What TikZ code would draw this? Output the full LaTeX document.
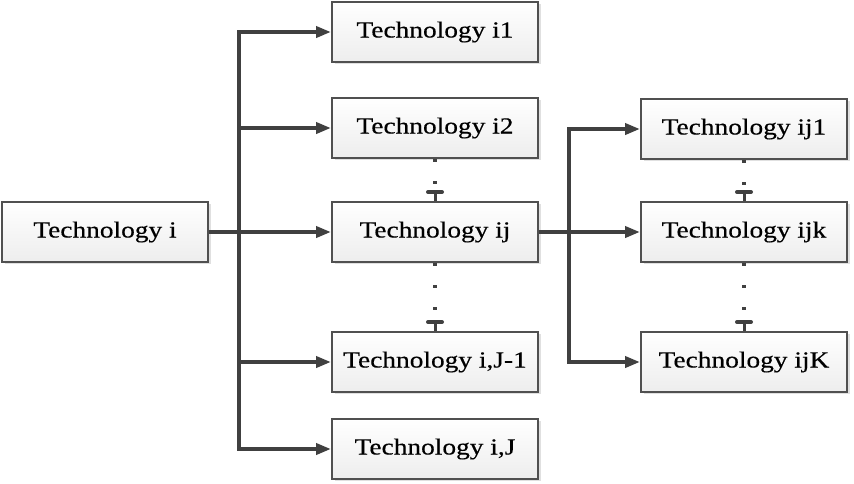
\documentclass[tikz,border=0pt]{standalone}
\usepackage{fontspec}
\setmainfont{Liberation Serif}[FakeStretch=1.19,FakeBold=0.35]
\usetikzlibrary{arrows.meta,shadows}
\definecolor{lnc}{HTML}{404040}
\definecolor{bdc}{HTML}{505050}
\tikzset{
  techbox/.style={draw=bdc, line width=2pt, top color=white, bottom color=black!7,
    minimum width=206pt, minimum height=60pt, inner sep=0pt,
    font=\fontsize{23}{27}\selectfont,
    drop shadow={shadow xshift=3pt, shadow yshift=-2pt, fill=black!12, opacity=1}},
  conn/.style={draw=lnc, line width=4pt, line join=miter,
    -{Triangle[length=15pt,width=11pt]}},
  dotsline/.style={draw=lnc, line width=3.2pt, dash pattern=on 3.2pt off 18.8pt},
  barline/.style={draw=lnc, line width=4pt, line cap=round},
  stubline/.style={draw=lnc, line width=3pt}
}
\begin{document}
\begin{tikzpicture}[x=1pt,y=-1pt]
\useasboundingbox (0,0) rectangle (854,483);
\node[techbox] (ti)  at (105,232) {Technology i};
\node[techbox] (i1)  at (435,32)  {Technology i1};
\node[techbox] (i2)  at (435,128) {Technology i2};
\node[techbox] (ij)  at (435,232) {Technology ij};
\node[techbox] (iJ1) at (435,362) {Technology i,J-1};
\node[techbox] (iJ)  at (435,449) {Technology i,J};
\node[techbox] (ij1) at (744,129) {Technology ij1};
\node[techbox] (ijk) at (744,232) {Technology ijk};
\node[techbox] (ijK) at (744,362) {Technology ijK};
\coordinate (t) at (239,0);
\coordinate (u) at (569,0);
% left tree
\draw[conn] (t |- iJ.west) -- (t |- i1.west) -- (i1.west);
\draw[conn] (t |- i1.west) -- (t |- iJ.west) -- (iJ.west);
\draw[conn] (t |- i2.west) -- (i2.west);
\draw[conn] (t |- iJ1.west) -- (iJ1.west);
\draw[conn] (ti.east) -- (ij.west);
% right tree
\draw[conn] (u |- ijK.west) -- (u |- ij1.west) -- (ij1.west);
\draw[conn] (u |- ij1.west) -- (u |- ijK.west) -- (ijK.west);
\draw[conn] (ij.east) -- (ijk.west);
% dotted continuations
\foreach \a/\b in {i2/ij, ij/iJ1, ij1/ijk, ijk/ijK}{
  \draw[dotsline] (\a.south) -- ([yshift=9pt]\b.north);
  \draw[stubline] ([yshift=9pt]\b.north) -- (\b.north);
  \draw[barline] ([xshift=-7pt,yshift=9pt]\b.north) -- ([xshift=7pt,yshift=9pt]\b.north);
}
\end{tikzpicture}
\end{document}
